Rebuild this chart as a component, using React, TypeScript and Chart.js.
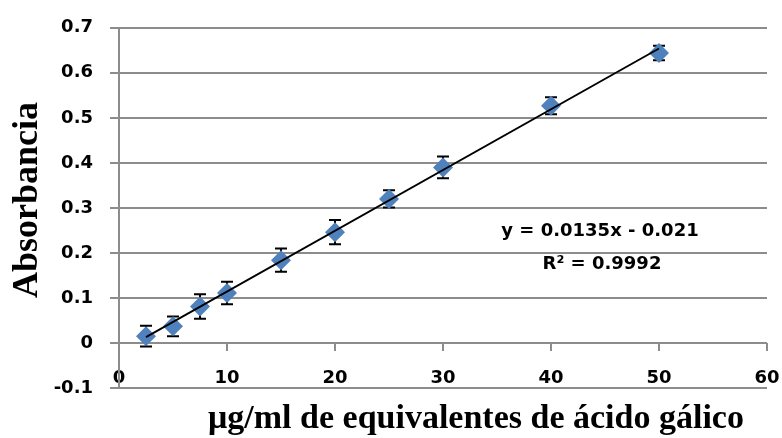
import React, { useEffect, useRef } from "react";
import { Chart, registerables } from "chart.js";

Chart.register(...registerables);

// ---- data ----
const concentrations = [2.5, 5, 7.5, 10, 15, 20, 25, 30, 40, 50];
const absorbances = [0.015, 0.037, 0.081, 0.111, 0.184, 0.246, 0.32, 0.39, 0.527, 0.644];
const errorMargins = [0.023, 0.022, 0.027, 0.025, 0.026, 0.027, 0.019, 0.024, 0.019, 0.016];
const trendX = [2.5, 50];
const trendY = [0.013, 0.654];
const equationText = "y = 0.0135x - 0.021";
const r2Text = "R² = 0.9992";
const xTitle = "μg/ml de equivalentes de ácido gálico";
const yTitle = "Absorbancia";
const xRange = [0, 60];
const xStep = 10;
const yRange = [-0.1, 0.7];
const yStep = 0.1;

const GRID = "#8c8c8c";
const BLUE = "#4F81BD";
const TICK_FONT = { family: "'DejaVu Sans', sans-serif", weight: "bold" as const, size: 18 };

const errorBarPlugin = {
  id: "errorBars",
  beforeDatasetsDraw(chart: any) {
    const { ctx, scales } = chart;
    const xs = scales.x;
    const ys = scales.y;
    ctx.save();
    // tick marks below the horizontal axis at y = 0
    ctx.strokeStyle = GRID;
    ctx.lineWidth = 2;
    const y0 = ys.getPixelForValue(0);
    xs.ticks.forEach((t: any) => {
      if (t.value === 0) return;
      const px = Math.round(xs.getPixelForValue(t.value));
      ctx.beginPath();
      ctx.moveTo(px, y0);
      ctx.lineTo(px, y0 + 8);
      ctx.stroke();
    });
    // error bars
    ctx.strokeStyle = "#000";
    ctx.lineWidth = 2;
    concentrations.forEach((c, i) => {
      const px = xs.getPixelForValue(c);
      const top = ys.getPixelForValue(absorbances[i] + errorMargins[i]);
      const bot = ys.getPixelForValue(absorbances[i] - errorMargins[i]);
      ctx.beginPath();
      ctx.moveTo(px, top);
      ctx.lineTo(px, bot);
      ctx.moveTo(px - 6, top);
      ctx.lineTo(px + 6, top);
      ctx.moveTo(px - 6, bot);
      ctx.lineTo(px + 6, bot);
      ctx.stroke();
    });
    ctx.restore();
  },
};

const textPlugin = {
  id: "texts",
  afterDraw(chart: any) {
    const { ctx } = chart;
    ctx.save();
    ctx.fillStyle = "#000";
    // annotation
    ctx.font = "bold 18px 'DejaVu Sans', sans-serif";
    ctx.textAlign = "center";
    ctx.textBaseline = "middle";
    ctx.fillText(equationText, 600, 231);
    ctx.fillText(r2Text, 602, 264);
    // x title
    ctx.font = "bold 34px 'Liberation Serif', 'Times New Roman', serif";
    ctx.textBaseline = "alphabetic";
    ctx.fillText(xTitle, 476, 428);
    // y title
    ctx.font = "bold 36px 'Liberation Serif', 'Times New Roman', serif";
    ctx.translate(37, 200);
    ctx.rotate(-Math.PI / 2);
    ctx.fillText(yTitle, 0, 0);
    ctx.restore();
  },
};

export default function App() {
  const ref = useRef<HTMLCanvasElement | null>(null);

  useEffect(() => {
    if (!ref.current) return;
    const chart = new Chart(ref.current, {
      type: "scatter",
      data: {
        datasets: [
          {
            label: "Tendencia",
            data: trendX.map((x, i) => ({ x, y: trendY[i] })),
            showLine: true,
            borderColor: "#000",
            borderWidth: 1.9,
            pointRadius: 0,
            fill: false,
          },
          {
            label: "Absorbancia",
            data: concentrations.map((x, i) => ({ x, y: absorbances[i] })),
            pointStyle: "rectRot",
            pointRadius: 10,
            pointHoverRadius: 10,
            backgroundColor: BLUE,
            borderColor: BLUE,
            borderWidth: 0,
          },
        ],
      },
      options: {
        responsive: false,
        animation: false,
        devicePixelRatio: 1,
        layout: { padding: { top: 24, right: 15, left: 0, bottom: 0 } },
        plugins: { legend: { display: false }, tooltip: { enabled: false } },
        scales: {
          x: {
            type: "linear",
            position: "bottom",
            min: xRange[0],
            max: xRange[1],
            ticks: {
              stepSize: xStep,
              font: TICK_FONT,
              color: "#000",
              mirror: true,
              padding: -1,
              maxRotation: 0,
              autoSkip: false,
            },
            grid: { display: false, drawTicks: false },
            border: { display: false },
            afterFit(s: any) {
              s.height = 50;
            },
          },
          y: {
            type: "linear",
            position: "left",
            min: yRange[0],
            max: yRange[1],
            ticks: {
              stepSize: yStep,
              font: TICK_FONT,
              color: "#000",
              padding: 17,
              callback: (v: any) => {
                const n = Math.round(Number(v) * 10) / 10;
                return n === 0 ? "0" : String(n);
              },
            },
            grid: { color: GRID, lineWidth: 2, tickLength: 9, drawTicks: true },
            border: { display: true, color: GRID, width: 2 },
            afterFit(s: any) {
              s.width = 119;
            },
          },
        },
      },
      plugins: [errorBarPlugin, textPlugin],
    });
    return () => chart.destroy();
  }, []);

  return (
    <div style={{ position: "absolute", left: 0, top: 0, width: 782, height: 438, background: "#fff" }}>
      <canvas ref={ref} width={782} height={438} style={{ display: "block" }} />
    </div>
  );
}
